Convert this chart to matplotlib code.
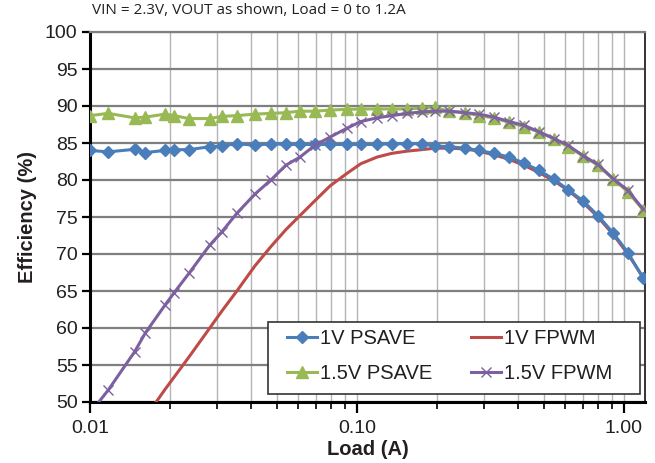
import numpy as np
import matplotlib
matplotlib.use("Agg")
import matplotlib.pyplot as plt
from matplotlib.patches import Rectangle
from matplotlib.ticker import FixedLocator, NullFormatter

plt.rcParams['font.family'] = ['Liberation Sans', 'DejaVu Sans']

# load points (A)
load = [0.0100, 0.0117, 0.0147, 0.0161, 0.0191, 0.0206, 0.0235, 0.0281, 0.0312,
        0.0355, 0.0415, 0.0476, 0.0542, 0.0612, 0.0696, 0.0793, 0.0918, 0.1034,
        0.119, 0.135, 0.154, 0.175, 0.196, 0.221, 0.254, 0.286, 0.326, 0.371,
        0.422, 0.481, 0.547, 0.617, 0.702, 0.799, 0.909, 1.035, 1.178]

# efficiency (%) per series
psave_1v = [84.0, 83.8, 84.15, 83.7, 84.0, 84.1, 84.1, 84.5, 84.6, 84.9, 84.7, 84.9,
            84.8, 84.8, 84.8, 84.8, 84.8, 84.8, 84.8, 84.9, 84.9, 84.9, 84.6, 84.5,
            84.3, 84.0, 83.6, 83.1, 82.3, 81.3, 80.1, 78.7, 77.2, 75.2, 72.9, 70.2, 66.8]
fpwm_1v = [37.8, 40.9, 46.0, 47.9, 51.7, 53.3, 56.1, 60.0, 62.3, 65.0, 68.4, 71.0,
           73.3, 75.2, 77.2, 79.2, 80.9, 82.2, 83.1, 83.6, 83.9, 84.1, 84.3, 84.3,
           84.2, 83.9, 83.4, 82.8, 82.0, 81.0, 79.9, 78.6, 77.0, 75.0, 72.7, 70.0, 66.9]
psave_15v = [88.7, 89.0, 88.4, 88.5, 88.9, 88.7, 88.3, 88.3, 88.6, 88.7, 88.9, 89.0,
             89.1, 89.3, 89.3, 89.45, 89.55, 89.6, 89.6, 89.6, 89.6, 89.7, 89.8, 89.3,
             89.1, 88.7, 88.4, 87.8, 87.2, 86.5, 85.6, 84.5, 83.3, 82.0, 80.2, 78.4, 76.0]
fpwm_15v = [48.5, 51.6, 56.8, 59.3, 63.1, 64.7, 67.4, 71.2, 73.0, 75.5, 78.1, 80.0,
            82.0, 83.1, 84.7, 85.8, 87.0, 87.9, 88.4, 88.7, 89.0, 89.2, 89.3, 89.3,
            89.1, 88.9, 88.5, 87.9, 87.4, 86.5, 85.6, 84.7, 83.3, 82.1, 80.2, 78.6, 76.1]

x_major = [0.01, 0.1, 1.0]
x_labels = ['0.01', '0.10', '1.00']
y_ticks = np.arange(50, 101, 5)

fig = plt.figure(figsize=(6.55, 4.63), dpi=100)
ax = fig.add_axes([90 / 655, 1 - 402 / 463, 555 / 655, 370 / 463])

l1, = ax.plot(load, psave_1v, color='#4A7EBB', lw=2.2, marker='D', ms=6, label='1V PSAVE', zorder=4)
l2, = ax.plot(load, fpwm_1v, color='#BE4B48', lw=2.2, label='1V FPWM', zorder=3)
l3, = ax.plot(load, psave_15v, color='#98B954', lw=2.2, marker='^', ms=8, label='1.5V PSAVE', zorder=3)
l4, = ax.plot(load, fpwm_15v, color='#7D60A0', lw=2.2, marker='x', ms=7.5, mew=1, label='1.5V FPWM', zorder=4)

ax.set_xscale('log')
ax.set_xlim(0.01, 1.2)
ax.set_ylim(50, 100)
ax.xaxis.set_major_locator(FixedLocator(x_major))
ax.set_xticklabels(x_labels)
minors = [m * d for d in [0.01, 0.1] for m in range(2, 10)]
ax.xaxis.set_minor_locator(FixedLocator(minors))
ax.xaxis.set_minor_formatter(NullFormatter())
ax.set_yticks(y_ticks)

ax.grid(True, which='both', axis='x', color='#b4b4b4', lw=1.0)
ax.grid(True, which='major', axis='y', color='#7f7f7f', lw=1.6)
ax.set_axisbelow(True)

for s in ['left', 'bottom']:
    ax.spines[s].set_linewidth(2.2)
    ax.spines[s].set_color('black')
ax.spines['top'].set_color('#7f7f7f')
ax.spines['top'].set_linewidth(1.6)
ax.spines['right'].set_color('#333333')
ax.spines['right'].set_linewidth(1.4)

ax.tick_params(axis='both', which='major', labelsize=14, direction='out', length=6,
               width=1.6, colors='black', labelcolor='#231f20')
ax.tick_params(axis='x', which='major', length=8, pad=5)
ax.tick_params(axis='x', which='minor', length=5, width=1.2, direction='out')
ax.tick_params(axis='y', pad=3)

ax.set_xlabel('Load (A)', fontsize=14.5, fontweight='bold', color='#231f20', labelpad=2)
ax.set_ylabel('Efficiency (%)', fontsize=14.5, fontweight='bold', color='#231f20', labelpad=6)

# legend box drawn separately so the entries can sit with Excel-like padding
box = Rectangle(((268 - 90) / 555, (402 - 394) / 370), 372 / 555, 72 / 370,
                transform=ax.transAxes, facecolor='white', edgecolor='#333333',
                lw=1.2, zorder=6)
ax.add_patch(box)

# legend fills column-wise, so order handles to read row-wise
leg = ax.legend([l1, l3, l2, l4], ['1V PSAVE', '1.5V PSAVE', '1V FPWM', '1.5V FPWM'],
                ncol=2, loc='upper left', bbox_to_anchor=((287 - 90) / 555, (402 - 329) / 370),
                fontsize=14.5, frameon=False, handlelength=1.5, handletextpad=0.12,
                labelspacing=0.8, borderpad=0, borderaxespad=0, columnspacing=1.95)
leg.set_zorder(7)
for t in leg.get_texts():
    t.set_color('#231f20')

fig.text(92 / 655, 1 - 3 / 463, 'VIN = 2.3V, VOUT as shown, Load = 0 to 1.2A',
         fontsize=11, color='#231f20', va='top', ha='left', family=['Open Sans', 'DejaVu Sans'])

fig.savefig('out.png', dpi=100)
